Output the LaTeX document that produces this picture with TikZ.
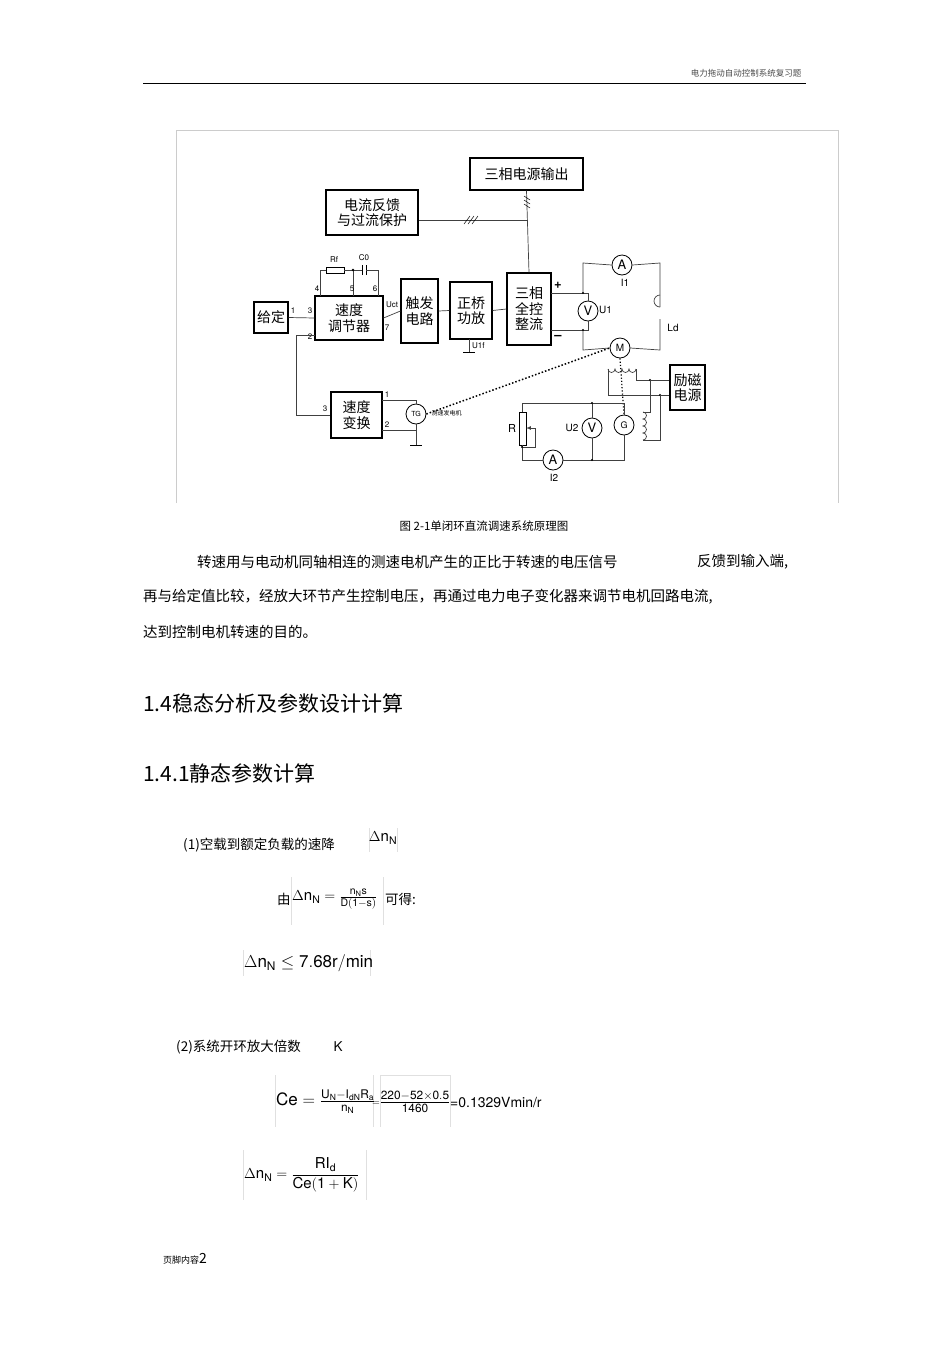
\documentclass[tikz,border=0pt]{standalone}
\usepackage{fontspec}
\setmainfont{TeX Gyre Heros}
\newfontfamily\cjk{Noto Sans CJK SC}
\usetikzlibrary{decorations.pathmorphing}
\begin{document}
\begin{tikzpicture}[x=1pt,y=-1pt,
  blk/.style={draw,line width=1.1pt,inner sep=0pt,align=center,font=\cjk\fontsize{14}{15.5}\selectfont},
  wire/.style={line width=0.7pt,draw=black!75},
  meter/.style={draw,circle,line width=0.8pt,fill=white,minimum size=20pt,inner sep=0pt,font=\fontsize{13}{13}\selectfont},
  pin/.style={font=\fontsize{8}{8}\selectfont,inner sep=1pt},
  body/.style={anchor=west,font=\cjk\fontsize{14.5}{16}\selectfont,inner sep=0pt},
  head/.style={anchor=west,font=\cjk\fontsize{21}{24}\selectfont,inner sep=0pt},
  fbox/.style={draw=black!12,line width=0.6pt}]
\useasboundingbox[fill=white] (0,0) rectangle (950,1345);
% header
\node[anchor=east,font=\cjk\fontsize{8.5}{9}\selectfont,text=black!70] (hdr) at (805,73) {电力拖动自动控制系统复习题};
\draw[line width=0.8pt] (143,83) -- (806,83);
% diagram frame
\draw[black!20,line width=0.8pt] (176,503) -- (176,130) -- (838,130) -- (838,503);
% blocks
\node[blk,minimum width=113pt,minimum height=32pt] (src) at (526.5,174) {三相电源输出};
\node[blk,minimum width=92pt,minimum height=45pt] (cfb) at (372,212.5) {电流反馈\\与过流保护};
\node[blk,minimum width=34pt,minimum height=31pt] (gd) at (271,317.5) {给定};
\node[blk,minimum width=68pt,minimum height=44pt] (asr) at (349,318) {速度\\调节器};
\node[blk,minimum width=37pt,minimum height=64pt] (trg) at (419.5,311) {触发\\电路};
\node[blk,minimum width=42pt,minimum height=57pt] (amp) at (471,310.5) {正桥\\功放};
\node[blk,minimum width=44pt,minimum height=72pt] (rect) at (529,309) {三相\\全控\\整流};
\node[blk,minimum width=51pt,minimum height=46pt] (spc) at (356.5,415) {速度\\变换};
\node[blk,minimum width=35pt,minimum height=45pt] (exc) at (687.5,387.5) {励磁\\电源};
% source / feedback
\draw[wire] (src.south) -- (rect.north);
\draw[wire] (cfb.east) ++(0,7.5) -- (527,220);
\foreach \d in {0,4,8} \draw[line width=0.5pt] (464+\d,224) -- (470+\d,216);
\foreach \d in {0,4,8} \draw[line width=0.5pt] (524,196+\d) -- (530,200+\d);
% chain
\draw[wire] (gd.east) -- (asr.west);
\node[pin] at (293,311) {1}; \node[pin] at (310,311) {3};
\draw[wire] (asr.east) -- (trg.west);
\node[pin] at (392,305) {Uct}; \node[pin] at (387,328) {7};
\draw[wire] (trg.east) -- (amp.west);
\draw[wire] (amp.east) -- (rect.west);
\coordinate (gnd1) at (469,352);
\draw[wire] (469,339) -- (gnd1); \draw[line width=0.8pt] (463,352) -- (475,352);
\node[pin,anchor=west] (uif) at (471,346) {U1f};
% Rf Cf network
\draw[wire] (320,296) -- (320,270) -- (326,270);
\draw[line width=0.7pt] (326,267) rectangle (344,273);
\draw[wire] (344,270) -- (362,270); \draw[line width=0.8pt] (362,265)--(362,275) (366,265)--(366,275);
\draw[wire] (366,270) -- (378,270) -- (378,296);
\draw[wire] (353,270) -- (353,296); \fill (353,270) circle (1.3pt);
\node[pin] at (334,260) {Rf}; \node[pin] at (364,258) {C0};
\node[pin] at (317,289) {4}; \node[pin] at (352,289) {5}; \node[pin] at (375,289) {6};
\node[pin] at (310,337) {2};
% speed feedback loop
\draw[wire] (315,335) -- (296,335) -- (296,415) -- (spc.west);
\node[pin] at (325,409) {3};
\node[meter,minimum size=20pt,font=\fontsize{7}{7}\selectfont] (tg) at (416,414) {TG};
\draw[wire] (382,400) -- (416,400) -- (tg.north);
\draw[wire] (382,430) -- (416,430);
\node[pin] at (387,395) {1}; \node[pin] at (387,425) {2};
\draw[wire] (tg.south) -- (416,445); \draw[line width=0.8pt] (410,445) -- (422,445);
\node[anchor=west,font=\cjk\fontsize{6}{6}\selectfont] (tglab) at (428,413) {测速发电机};
% armature circuit
\node[font=\bfseries\fontsize{13}{13}\selectfont] (plus) at (558,285) {+};
\node[font=\bfseries\fontsize{13}{13}\selectfont] (minus) at (558,337) {–};
\node[meter] (v1) at (588,311) {V};
\node[pin,font=\fontsize{10}{10}\selectfont,anchor=west] at (598,310) {U1};
\node[meter] (a1) at (622,265) {A};
\node[pin,font=\fontsize{10}{10}\selectfont] at (625,283) {I1};
\node[meter,font=\fontsize{10}{10}\selectfont] (m) at (620,348) {M};
\draw[wire] (551,293) -- (588,293) -- (v1.north);
\draw[wire] (551,330) -- (588,330) -- (v1.south);
\draw[wire] (583,293) -- (583,263) -- (a1.west);
\draw[wire] (a1.east) -- (660,263) -- (660,307);
\draw[wire] (660,307) arc (90:270:6) ;
\draw[wire] (660,319) -- (660,350) -- (m.east);
\draw[wire] (583,330) -- (583,350) -- (m.west);
\fill (583,293) circle (1.2pt); \fill (583,330) circle (1.2pt);
\node[pin,font=\fontsize{10}{10}\selectfont] at (673,328) {Ld};
% field of M
\draw[wire] (608,369) arc (180:0:3.5) arc (180:0:3.5) arc (180:0:3.5) arc (180:0:3.5);
\draw[wire] (608,369) -- (608,395) -- (exc.west |- 0,395);
\draw[wire] (636,369) -- (636,380) -- (exc.west |- 0,380);
\fill (650,380) circle (1.2pt); \fill (660,395) circle (1.2pt);
% generator
\node[meter,font=\fontsize{9}{9}\selectfont] (g) at (624,425) {G};
\draw[dotted,line width=1.2pt] (m.south) -- (g.north);
\draw[dotted,line width=1.5pt] (tg.east) -- (m.west);
\draw[wire] (650,380) -- (650,412) -- (643,412);
\draw[wire] (643,412) arc (90:270:-3.5) arc (90:270:-3.5) arc (90:270:-3.5) arc (90:270:-3.5);
\draw[wire] (643,440) -- (660,440) -- (660,395);
% load circuit
\node[meter] (v2) at (592,428) {V};
\node[meter] (a2) at (553,460) {A};
\node[pin,font=\fontsize{10}{10}\selectfont] at (554,478) {I2};
\node[pin,font=\fontsize{10}{10}\selectfont] at (572,428) {U2};
\node[pin,font=\fontsize{11}{11}\selectfont] at (512,428) {R};
\draw[wire] (522,412) -- (522,403) -- (624,403) -- (g.north);
\draw[wire] (592,403) -- (v2.north); \draw[wire] (v2.south) -- (592,460);
\draw[line width=0.7pt,fill=white] (519,412) rectangle (526,445);
\draw[wire,-latex] (535,428) -- (526,428); \draw[wire] (535,428) -- (535,447) -- (522,447);
\draw[wire] (522,445) -- (522,460) -- (a2.west);
\draw[wire] (a2.east) -- (624,460) -- (g.south);
\fill (592,403) circle (1.2pt); \fill (592,460) circle (1.2pt); \fill (522,447) circle (1.2pt);
% caption and text
\node[font=\cjk\fontsize{11.5}{12}\selectfont] (cap) at (484,526) {图 2-1单闭环直流调速系统原理图};
\node[body] (p1) at (197,562) {转速用与电动机同轴相连的测速电机产生的正比于转速的电压信号};
\node[body] (p1b) at (697,562) {反馈到输入端,};
\node[body] (p2) at (143,597) {再与给定值比较，经放大环节产生控制电压，再通过电力电子变化器来调节电机回路电流,};
\node[body] (p3) at (143,632) {达到控制电机转速的目的。};
\node[head] (h1) at (143,703) {1.4稳态分析及参数设计计算};
\node[head] (h2) at (143,773) {1.4.1静态参数计算};
\node[body,font=\cjk\fontsize{13.5}{15}\selectfont] (q1) at (183,845) {(1)空载到额定负载的速降};
\draw[fbox] (369,828) -- (369,852) (397,828) -- (397,852);
\node[inner sep=0pt] (f0) at (383,838) {\fontsize{15}{16}\selectfont$\Delta\mathrm{n_N}$};
\node[body,font=\cjk\fontsize{13.5}{15}\selectfont] (you) at (277,899) {由};
\draw[fbox] (291,877) -- (291,925) (383,877) -- (383,925);
\node[inner sep=0pt,anchor=west] (f1) at (292,899) {\fontsize{15}{16}\selectfont$\Delta\mathrm{n_N}=\frac{\mathrm{n_N s}}{\mathrm{D(1-s)}}$};
\node[body,font=\cjk\fontsize{13.5}{15}\selectfont] (kd) at (385,899) {可得:};
\draw[fbox] (243,950) -- (243,976) (370,950) -- (370,976);
\node[inner sep=0pt,anchor=west] (f2) at (244,963) {\fontsize{17}{18}\selectfont$\Delta\mathrm{n_N}\leq\mathrm{7.68r/min}$};
\node[body,font=\cjk\fontsize{13.5}{15}\selectfont] (q2) at (176,1047) {(2)系统开环放大倍数};
\node[anchor=west,font=\fontsize{13.5}{15}\selectfont] (kk) at (330,1047) {K};
\draw[fbox] (275,1075) -- (275,1127) (373,1075) -- (373,1127) (380,1075) -- (380,1127) (450,1075) -- (450,1127) (380,1075) -- (450,1075);
\node[inner sep=0pt,anchor=west] (f3) at (276,1102) {\fontsize{17}{18}\selectfont$\mathrm{Ce}=\frac{\mathrm{U_N-I_{dN}R_a}}{\mathrm{n_N}}$};
\node[inner sep=0pt] (eq) at (376,1104) {\fontsize{10}{10}\selectfont$=$};
\node[inner sep=0pt] (f4) at (415,1102) {\fontsize{17}{18}\selectfont$\frac{\mathrm{220-52\times0.5}}{\mathrm{1460}}$};
\node[anchor=west,inner sep=0pt,font=\fontsize{14}{15}\selectfont] (res) at (450,1103) {=0.1329Vmin/r};
\draw[fbox] (243,1150) -- (243,1200) (366,1150) -- (366,1200);
\node[inner sep=0pt,anchor=west] (f5) at (244,1175) {\fontsize{15}{16}\selectfont$\displaystyle\Delta\mathrm{n_N}=\frac{\mathrm{RI_d}}{\mathrm{Ce(1+K)}}$};
\node[anchor=west,inner sep=0pt,font=\cjk\fontsize{9}{10}\selectfont] (ft) at (163,1259) {页脚内容\fontsize{14}{14}\selectfont 2};
\end{tikzpicture}
\end{document}
